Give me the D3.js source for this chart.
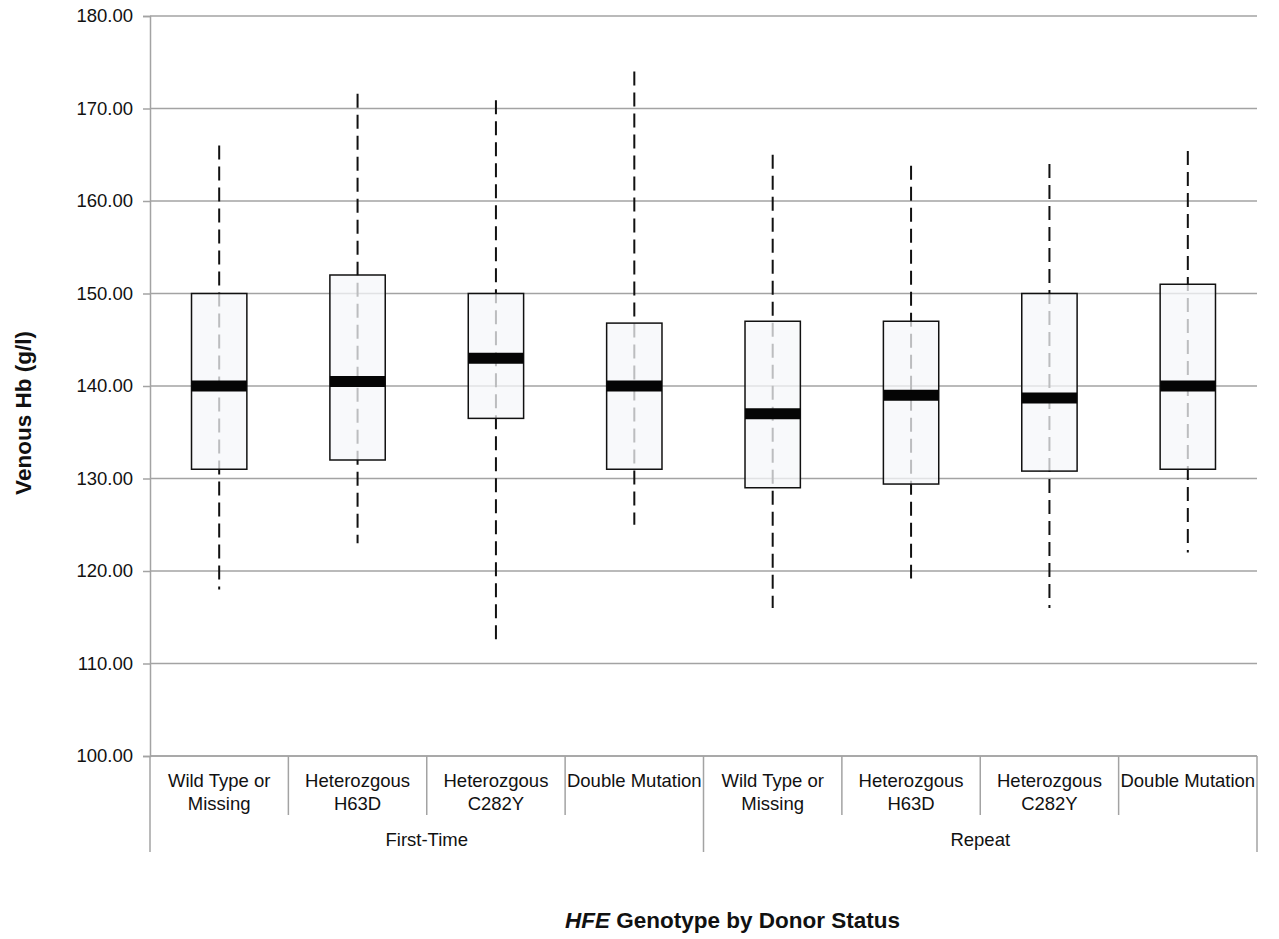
<!DOCTYPE html>
<html>
<head>
<meta charset="utf-8">
<script src="https://cdn.jsdelivr.net/npm/d3@7"></script>
<style>
  html, body { margin: 0; padding: 0; background: #fff; }
  svg { display: block; font-family: "Liberation Sans", Arial, sans-serif; }
</style>
</head>
<body>
<svg id="chart" width="1279" height="939"></svg>
<script>
// Genotype categories, grouped by donor status
const genotypeLines = [
  ["Wild Type or", "Missing"],
  ["Heterozgous", "H63D"],
  ["Heterozgous", "C282Y"],
  ["Double Mutation"],
  ["Wild Type or", "Missing"],
  ["Heterozgous", "H63D"],
  ["Heterozgous", "C282Y"],
  ["Double Mutation"]
];
const groups = ["First-Time", "Repeat"];
const groupSize = 4;

// Box-plot statistics of venous Hb (g/l) per category
const whiskerMax = [166, 171.6, 170.9, 174, 165, 163.8, 164, 165.4];
const q3Values   = [150, 152, 150, 146.8, 147, 147, 150, 151];
const medians    = [140, 140.5, 143, 140, 137, 139, 138.7, 140];
const q1Values   = [131, 132, 136.5, 131, 129, 129.4, 130.8, 131];
const whiskerMin = [118, 123, 112, 125, 116, 119.2, 116, 122];

const yTicks = [100, 110, 120, 130, 140, 150, 160, 170, 180];

const svg = d3.select("#chart");
const plotLeft = 150, plotRight = 1257, plotTop = 16, plotBottom = 756;

const idx = d3.range(genotypeLines.length);
const x = d3.scaleBand().domain(idx).range([plotLeft, plotRight]).padding(0);
const y = d3.scaleLinear().domain([100, 180]).range([plotBottom, plotTop]);

const gridColor = "#a3a3a3";

// Horizontal gridlines
svg.append("g")
  .selectAll("line")
  .data(yTicks)
  .join("line")
  .attr("x1", plotLeft).attr("x2", plotRight)
  .attr("y1", d => y(d)).attr("y2", d => y(d))
  .attr("stroke", gridColor).attr("stroke-width", 1.5);

// Y axis
const yAxis = svg.append("g")
  .attr("transform", `translate(${plotLeft},0)`)
  .call(d3.axisLeft(y).tickValues(yTicks).tickFormat(d3.format(".2f")).tickSize(7).tickPadding(10));
yAxis.select(".domain").attr("stroke", gridColor).attr("stroke-width", 1.5);
yAxis.selectAll(".tick line").attr("stroke", gridColor).attr("stroke-width", 1.5);
yAxis.selectAll(".tick text")
  .attr("font-size", 18.5)
  .attr("fill", "#111")
  .style("font-family", "'Liberation Sans', Arial, sans-serif");

// Category axis: baseline, dividers and labels
const cat = svg.append("g");
cat.append("line")
  .attr("x1", plotLeft).attr("x2", plotRight)
  .attr("y1", plotBottom).attr("y2", plotBottom)
  .attr("stroke", gridColor).attr("stroke-width", 1.5);

const boundaries = d3.range(genotypeLines.length + 1);
cat.selectAll("line.div")
  .data(boundaries)
  .join("line")
  .attr("class", "div")
  .attr("x1", i => i < genotypeLines.length ? x(i) : plotRight)
  .attr("x2", i => i < genotypeLines.length ? x(i) : plotRight)
  .attr("y1", plotBottom)
  .attr("y2", i => i % groupSize === 0 ? 852 : 815)
  .attr("stroke", gridColor).attr("stroke-width", 1.5);

cat.selectAll("text.cat")
  .data(idx)
  .join("text")
  .attr("class", "cat")
  .attr("text-anchor", "middle")
  .attr("font-size", 18.5)
  .attr("fill", "#111")
  .each(function(i) {
    const t = d3.select(this);
    genotypeLines[i].forEach((ln, k) => {
      t.append("tspan")
        .attr("x", x(i) + x.bandwidth() / 2)
        .attr("y", 787 + k * 23)
        .text(ln);
    });
  });

cat.selectAll("text.grp")
  .data(groups)
  .join("text")
  .attr("class", "grp")
  .attr("text-anchor", "middle")
  .attr("font-size", 18.5)
  .attr("fill", "#111")
  .attr("x", (g, j) => (x(j * groupSize) + x(j * groupSize + groupSize - 1) + x.bandwidth()) / 2)
  .attr("y", 846)
  .text(g => g);

// Box plots
const boxW = x.bandwidth() * 0.4;
const boxes = svg.append("g")
  .selectAll("g")
  .data(idx)
  .join("g")
  .attr("transform", i => `translate(${x(i) + x.bandwidth() / 2},0)`);

boxes.append("line")
  .attr("x1", 0).attr("x2", 0)
  .attr("y1", i => y(whiskerMax[i]))
  .attr("y2", i => y(whiskerMin[i]))
  .attr("stroke", "#111")
  .attr("stroke-width", 2)
  .attr("stroke-dasharray", "14,7");

boxes.append("rect")
  .attr("x", -boxW / 2)
  .attr("width", boxW)
  .attr("y", i => y(q3Values[i]))
  .attr("height", i => y(q1Values[i]) - y(q3Values[i]))
  .attr("fill", "#f6f7fa")
  .attr("fill-opacity", 0.75)
  .attr("stroke", "#111")
  .attr("stroke-width", 1.5);

boxes.append("line")
  .attr("x1", -boxW / 2).attr("x2", boxW / 2)
  .attr("y1", i => y(medians[i]))
  .attr("y2", i => y(medians[i]))
  .attr("stroke", "#050505")
  .attr("stroke-width", 11);

// Axis titles
svg.append("text")
  .attr("transform", `translate(31,${(328 + 498) / 2}) rotate(-90)`)
  .attr("text-anchor", "middle")
  .attr("font-size", 22.5)
  .attr("font-weight", "bold")
  .attr("fill", "#111")
  .text("Venous Hb (g/l)");

const xt = svg.append("text")
  .attr("x", (plotLeft + plotRight) / 2 + 29)
  .attr("y", 928)
  .attr("text-anchor", "middle")
  .attr("font-size", 22.5)
  .attr("font-weight", "bold")
  .attr("fill", "#111");
xt.append("tspan").attr("font-style", "italic").text("HFE");
xt.append("tspan").text(" Genotype by Donor Status");
</script>
</body>
</html>
